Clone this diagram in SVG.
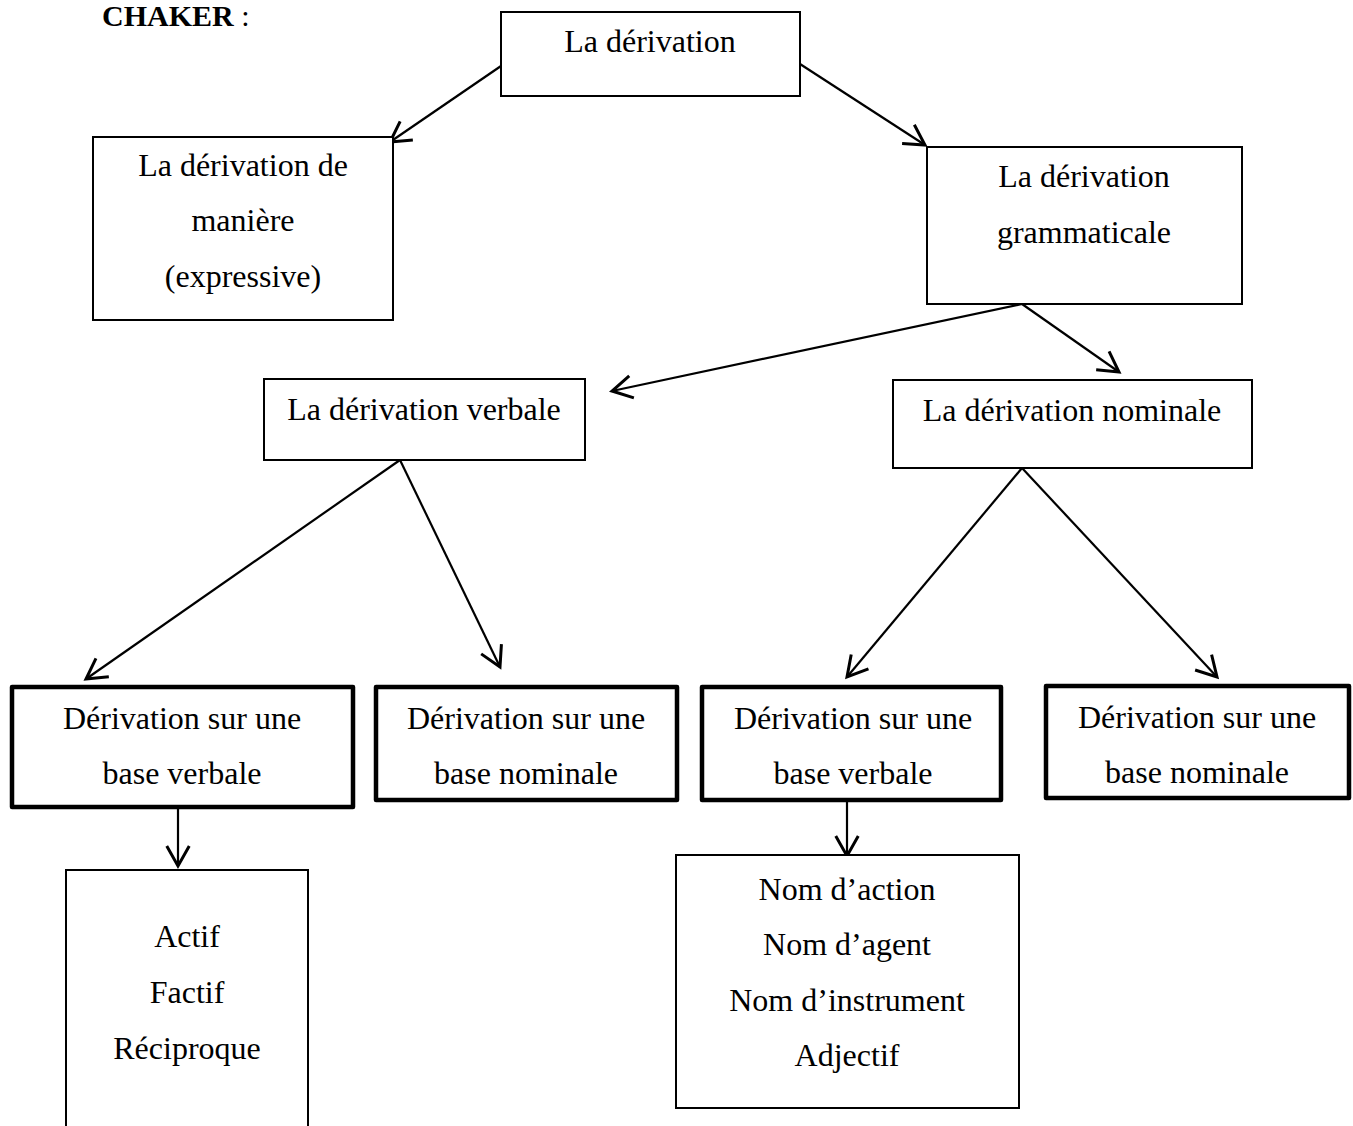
<svg xmlns="http://www.w3.org/2000/svg" width="1353" height="1126" viewBox="0 0 1353 1126">
<style>
text{font-family:"Liberation Serif","Times New Roman",serif;font-size:32px;fill:#000;text-anchor:middle}
.b{fill:#fff;stroke:#000;stroke-width:2}
.t{fill:#fff;stroke:#000;stroke-width:4.5;stroke-linejoin:round}
.c line{stroke:#000;stroke-width:2.2;marker-end:url(#a)}
.h{font-weight:bold;font-size:30px;text-anchor:start}
</style>
<defs>
<marker id="a" markerUnits="userSpaceOnUse" markerWidth="30" markerHeight="30" viewBox="-20 -12 24 24" refX="0" refY="0" orient="auto">
<path d="M-16,-9 L0,0 L-16,9" fill="none" stroke="#000" stroke-width="2.4"/>
</marker>
</defs>
<rect width="1353" height="1126" fill="#fff"/>
<text class="h" x="102" y="26">CHAKER <tspan font-weight="normal">:</tspan></text>
<g class="c">
<line x1="501" y1="66" x2="390" y2="142"/>
<line x1="800" y1="64" x2="925" y2="145"/>
<line x1="1022" y1="304" x2="612" y2="391"/>
<line x1="1022" y1="304" x2="1119" y2="372"/>
<line x1="400" y1="460" x2="86" y2="679"/>
<line x1="400" y1="460" x2="500" y2="667"/>
<line x1="1022" y1="468" x2="847" y2="677"/>
<line x1="1022" y1="468" x2="1217" y2="677"/>
<line x1="178" y1="808" x2="178" y2="866"/>
<line x1="847" y1="801" x2="847" y2="856"/>
</g>
<g id="n1"><rect class="b" x="501" y="12" width="299" height="84"/><text x="650" y="52">La dérivation</text></g>
<g id="n2"><rect class="b" x="93" y="137" width="300" height="183"/><text x="243" y="176">La dérivation de</text><text x="243" y="231">manière</text><text x="243" y="287">(expressive)</text></g>
<g id="n3"><rect class="b" x="927" y="147" width="315" height="157"/><text x="1084" y="187">La dérivation</text><text x="1084" y="243">grammaticale</text></g>
<g id="n4"><rect class="b" x="264" y="379" width="321" height="81"/><text x="424" y="420">La dérivation verbale</text></g>
<g id="n5"><rect class="b" x="893" y="380" width="359" height="88"/><text x="1072" y="421">La dérivation nominale</text></g>
<g id="n6"><rect class="t" x="12" y="687" width="341" height="120"/><text x="182" y="729">Dérivation sur une</text><text x="182" y="784">base verbale</text></g>
<g id="n7"><rect class="t" x="376" y="687" width="301" height="113"/><text x="526" y="729">Dérivation sur une</text><text x="526" y="784">base nominale</text></g>
<g id="n8"><rect class="t" x="702" y="687" width="299" height="113"/><text x="853" y="729">Dérivation sur une</text><text x="853" y="784">base verbale</text></g>
<g id="n9"><rect class="t" x="1046" y="686" width="303" height="112"/><text x="1197" y="728">Dérivation sur une</text><text x="1197" y="783">base nominale</text></g>
<g id="n10"><rect class="b" x="66" y="870" width="242" height="280"/><text x="187" y="947">Actif</text><text x="187" y="1003">Factif</text><text x="187" y="1059">Réciproque</text></g>
<g id="n11"><rect class="b" x="676" y="855" width="343" height="253"/><text x="847" y="900">Nom d’action</text><text x="847" y="955">Nom d’agent</text><text x="847" y="1011">Nom d’instrument</text><text x="847" y="1066">Adjectif</text></g>
</svg>
